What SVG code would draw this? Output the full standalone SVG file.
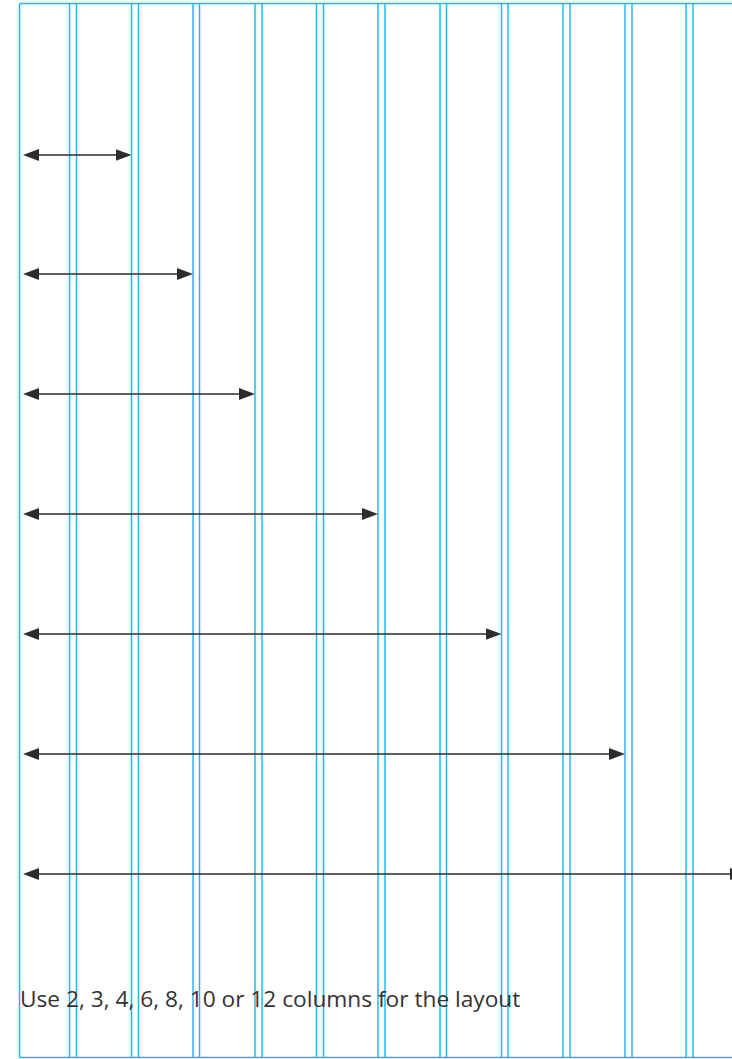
<svg xmlns="http://www.w3.org/2000/svg" width="732" height="1059" viewBox="0 0 732 1059">
  <style>
    .grid line { stroke: #22b8ef; stroke-width: 1.5; }
    .frame { stroke: #22b8ef; stroke-width: 1.8; fill: none; }
    .arrow { stroke: #2d2d2d; stroke-width: 1.5; fill: none; marker-start: url(#ah); marker-end: url(#ah); }
    .label { font-family: "Open Sans", "Noto Sans", "DejaVu Sans", sans-serif; font-size: 22.7px; fill: #333333; }
  </style>
  <defs>
    <marker id="ah" viewBox="0 0 16 12" refX="8" refY="6" markerWidth="16" markerHeight="12" markerUnits="userSpaceOnUse" orient="auto-start-reverse">
      <path d="M0,0 L16,6 L0,12 Z" fill="#2d2d2d"/>
    </marker>
  </defs>
  <rect width="732" height="1059" fill="#ffffff"/>
  <g id="grid" class="grid">
    <line x1="19.5" y1="3.5" x2="732" y2="3.5" class="frame"/>
    <line x1="19.5" y1="1057.5" x2="732" y2="1057.5" class="frame"/>
    <line x1="19.5" y1="3.5" x2="19.5" y2="1057.5"/>
    <line x1="69.5" y1="4" x2="69.5" y2="1057"/>
    <line x1="76.5" y1="4" x2="76.5" y2="1057"/>
    <line x1="131.5" y1="4" x2="131.5" y2="1057"/>
    <line x1="138.5" y1="4" x2="138.5" y2="1057"/>
    <line x1="193" y1="4" x2="193" y2="1057"/>
    <line x1="199.5" y1="4" x2="199.5" y2="1057"/>
    <line x1="255" y1="4" x2="255" y2="1057"/>
    <line x1="262" y1="4" x2="262" y2="1057"/>
    <line x1="316.5" y1="4" x2="316.5" y2="1057"/>
    <line x1="323.5" y1="4" x2="323.5" y2="1057"/>
    <line x1="378" y1="4" x2="378" y2="1057"/>
    <line x1="385" y1="4" x2="385" y2="1057"/>
    <line x1="440" y1="4" x2="440" y2="1057"/>
    <line x1="446.5" y1="4" x2="446.5" y2="1057"/>
    <line x1="501.5" y1="4" x2="501.5" y2="1057"/>
    <line x1="508" y1="4" x2="508" y2="1057"/>
    <line x1="563" y1="4" x2="563" y2="1057"/>
    <line x1="570" y1="4" x2="570" y2="1057"/>
    <line x1="625" y1="4" x2="625" y2="1057"/>
    <line x1="632" y1="4" x2="632" y2="1057"/>
    <line x1="686" y1="4" x2="686" y2="1057"/>
    <line x1="693" y1="4" x2="693" y2="1057"/>
  </g>
  <g id="connectors">
    <line class="arrow" x1="31" y1="155" x2="123.5" y2="155"/>
    <line class="arrow" x1="31" y1="274" x2="185" y2="274"/>
    <line class="arrow" x1="31" y1="394" x2="247" y2="394"/>
    <line class="arrow" x1="31" y1="514" x2="370" y2="514"/>
    <line class="arrow" x1="31" y1="634" x2="493.5" y2="634"/>
    <line class="arrow" x1="31" y1="754" x2="617" y2="754"/>
    <line class="arrow" x1="31" y1="874" x2="738" y2="874"/>
  </g>
  <g id="caption">
    <text class="label" x="20" y="1007">Use 2, 3, 4, 6, 8, 10 or 12 columns for the layout</text>
  </g>
</svg>
